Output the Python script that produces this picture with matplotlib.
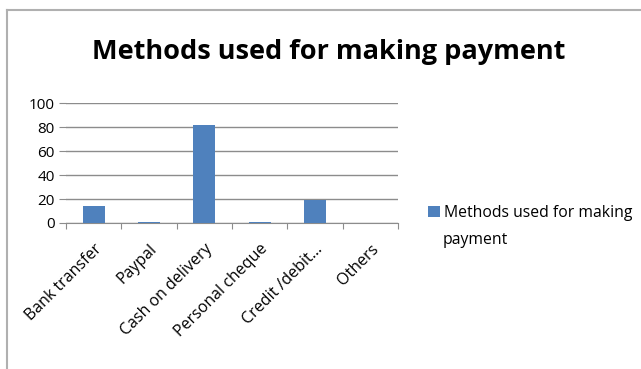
import numpy as np
import matplotlib
matplotlib.use('Agg')
from matplotlib import pyplot as plt
from matplotlib.lines import Line2D

plt.rcParams['font.family'] = ['Open Sans', 'DejaVu Sans']

# payment methods and share of responses
methods = ['Bank transfer', 'Paypal', 'Cash on delivery', 'Personal cheque', 'Credit /debit...', 'Others']
values = [14, 0.5, 82, 0.5, 19, 0]
series_name = 'Methods used for making'
series_name_tail = 'payment'

fig = plt.figure(figsize=(6.41, 3.69), dpi=100)
ax = fig.add_axes([0.103, 0.3957, 0.518, 0.325])

x = np.arange(len(methods))
ax.bar(x, values, width=0.4, color='#4f81bd', label=series_name, zorder=3)

ax.set_xlim(-0.5, len(methods) - 0.5)
ax.set_ylim(0, 100)
ax.set_yticks(range(0, 101, 20))
ax.yaxis.grid(True, color='#8c8c8c', linewidth=1)
ax.tick_params(axis='y', length=5, color='#8c8c8c', labelsize=11, pad=3)

# category ticks sit between the bars
ax.set_xticks(np.arange(-0.5, len(methods)), minor=False)
ax.set_xticklabels([])
ax.tick_params(axis='x', length=4, color='#8c8c8c')
ax.set_xticks(x, minor=True)
ax.set_xticklabels(methods, minor=True, rotation=45, ha='right',
                   rotation_mode='anchor', fontsize=11.5)
ax.tick_params(axis='x', which='minor', length=0, pad=13)

for side in ['top', 'right', 'left']:
    ax.spines[side].set_visible(False)
ax.spines['bottom'].set_color('#8c8c8c')

fig.suptitle('Methods used for making payment', x=0.512, y=0.86, va='center',
             fontsize=19.5, fontweight='bold')

# legend entry; the series name wraps onto a second line
leg = fig.legend(loc='center left', bbox_to_anchor=(428 / 641, 1 - 213 / 369),
                 frameon=False, fontsize=11.3, handlelength=0.75,
                 handleheight=0.75, handletextpad=0.3, borderaxespad=0,
                 borderpad=0)
fig.text(443 / 641, 1 - 240 / 369, series_name_tail, fontsize=11.3,
         va='center', ha='left')

# chart border
fig.add_artist(Line2D([0.011, 1.0], [0.973, 0.973], color='#b0b0b0', linewidth=1.5))
fig.add_artist(Line2D([0.011, 0.011], [0.0, 0.973], color='#b0b0b0', linewidth=1.5))

fig.savefig('out.png', dpi=100)
